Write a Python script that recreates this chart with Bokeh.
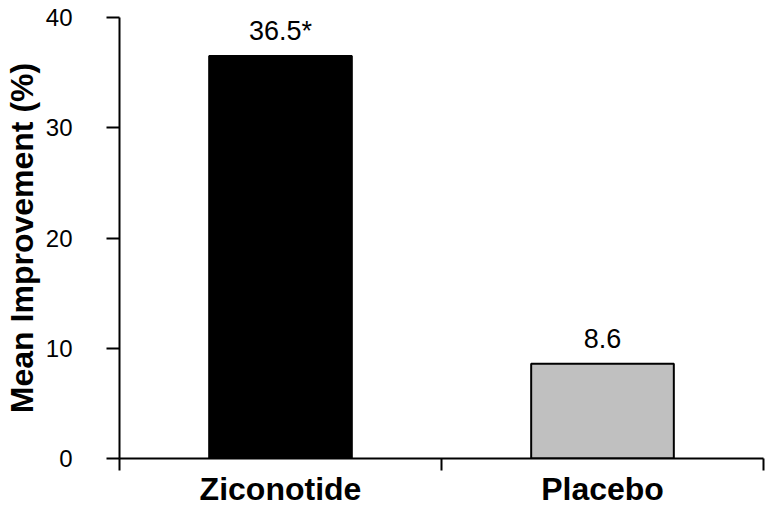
from bokeh.plotting import figure
from bokeh.models import FixedTicker, ColumnDataSource, Range1d
from bokeh.embed import file_html
from bokeh.resources import INLINE
from bokeh.core.properties import value

categories = ["Ziconotide", "Placebo"]
values = [36.5, 8.6]
value_labels = ["36.5*", "8.6"]
colors = ["#000000", "#c0c0c0"]
y_ticks = [0, 10, 20, 30, 40]

xpos = [i + 0.5 for i in range(len(categories))]
src = ColumnDataSource(dict(x=xpos, top=values, lab=value_labels, color=colors))

p = figure(width=768, height=509, output_backend="svg", toolbar_location=None,
           x_range=Range1d(0, len(categories)), y_range=Range1d(0, 40),
           min_border_left=118, min_border_right=5, min_border_top=17, min_border_bottom=51)
p.outline_line_color = None
p.grid.visible = False
p.background_fill_color = "white"

p.vbar(x="x", top="top", bottom=0, width=0.443, fill_color="color",
       line_color="black", line_width=2, source=src)
p.text(x="x", y="top", text="lab", source=src, text_align="center", text_baseline="alphabetic",
       y_offset=-25, text_font=value("Liberation Sans"), text_font_size="27px", text_color="black")

xt = FixedTicker(ticks=xpos, minor_ticks=list(range(len(categories) + 1)))
p.xaxis.ticker = xt
p.xaxis.major_label_overrides = {x: c for x, c in zip(xpos, categories)}
p.xaxis.major_tick_out = 0
p.xaxis.major_tick_in = 0
p.xaxis.minor_tick_out = 12
p.xaxis.minor_tick_in = 0
p.xaxis.minor_tick_line_width = 2
p.xaxis.minor_tick_line_color = "black"
p.xaxis.major_label_text_font = "Liberation Sans"
p.xaxis.major_label_text_font_style = "bold"
p.xaxis.major_label_text_font_size = "32px"
p.xaxis.major_label_text_color = "black"
p.xaxis.major_label_standoff = 0
p.xaxis.axis_line_width = 2
p.xaxis.axis_line_color = "black"

p.yaxis.ticker = FixedTicker(ticks=y_ticks, minor_ticks=[])
p.yaxis.major_tick_out = 13
p.yaxis.major_tick_in = 0
p.yaxis.major_tick_line_width = 2
p.yaxis.major_tick_line_color = "black"
p.yaxis.axis_line_width = 2
p.yaxis.axis_line_color = "black"
p.yaxis.major_label_text_font = "Liberation Sans"
p.yaxis.major_label_text_font_size = "24px"
p.yaxis.major_label_text_color = "black"
p.yaxis.major_label_standoff = 34
p.yaxis.axis_label = "Mean Improvement (%)"
p.yaxis.axis_label_text_font = "Liberation Sans"
p.yaxis.axis_label_text_font_style = "bold"
p.yaxis.axis_label_text_font_size = "32px"
p.yaxis.axis_label_text_color = "black"
p.yaxis.axis_label_standoff = 3

open("out.html", "w").write(file_html(p, INLINE))
